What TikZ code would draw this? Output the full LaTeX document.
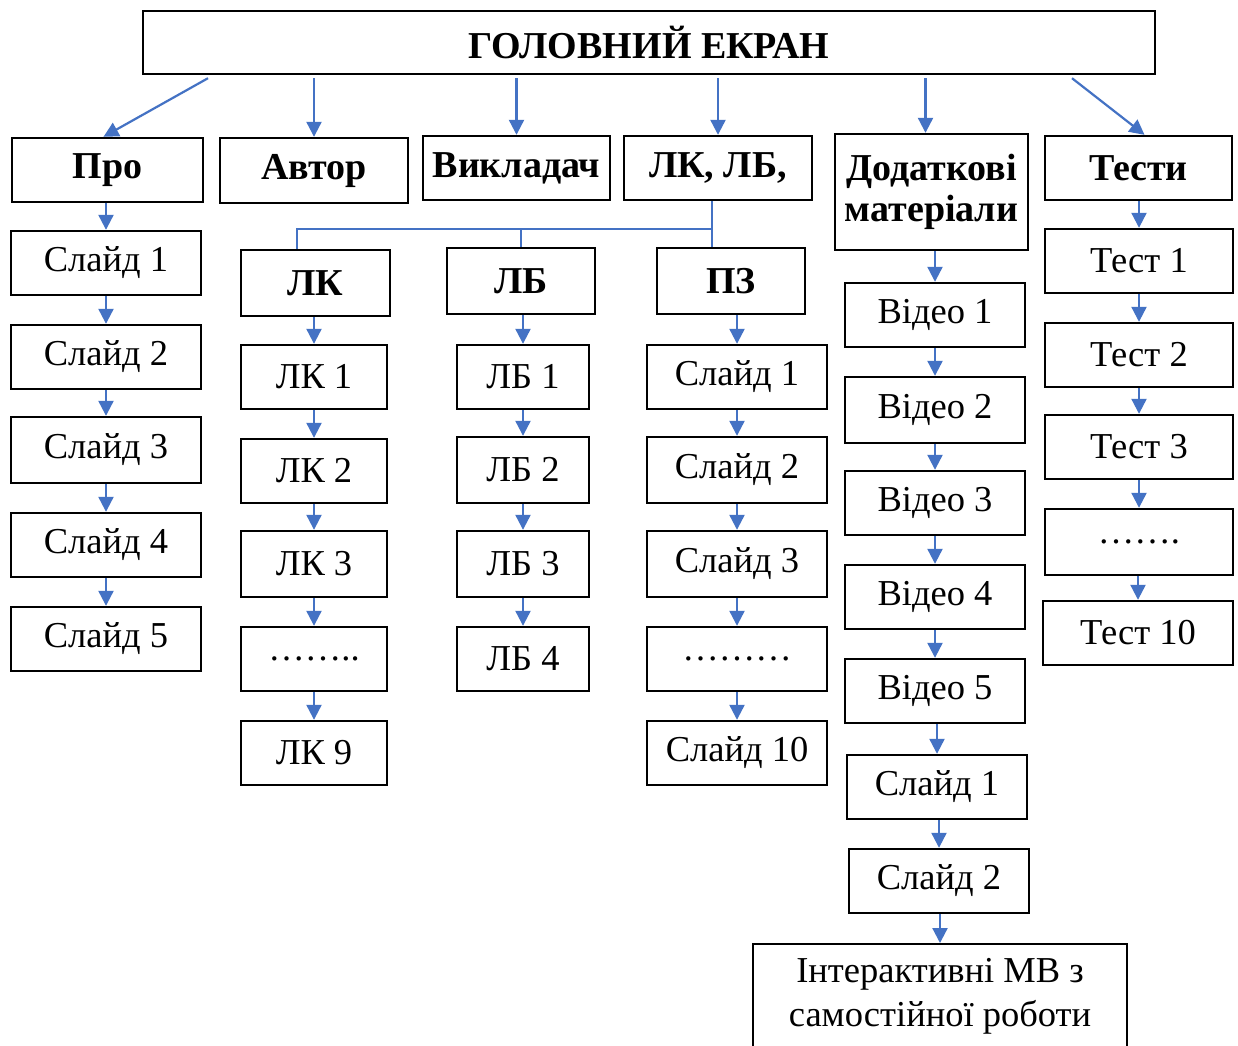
\documentclass[tikz,border=0pt]{standalone}
\usepackage{fontspec}
\setmainfont{Liberation Serif}
\usetikzlibrary{arrows.meta,calc}
\definecolor{arrblue}{HTML}{4472C4}
\begin{document}
\begin{tikzpicture}[x=1pt,y=-1pt,
  box/.style={draw, line width=2.4pt, inner sep=0pt, align=center, font=\fontsize{36.5}{42}\selectfont},
  hbox/.style={box, font=\fontsize{38}{41}\selectfont\bfseries},
  arr/.style={arrblue, line width=2.2pt, -{Triangle[length=15pt,width=15pt]}},
  conn/.style={arrblue, line width=2pt}]
\fill[white] (0,0) rectangle (1238,1045);
\clip (0,0) rectangle (1238,1045);
% top level
\node[hbox, minimum width=1012pt, minimum height=63pt] (title) at (649,42.5) {ГОЛОВНИЙ ЕКРАН};
\node[hbox, minimum width=191pt, minimum height=64pt] (pro) at (107.5,170) {Про};
\node[hbox, minimum width=188pt, minimum height=65pt] (avtor) at (314,170.5) {Автор};
\node[hbox, minimum width=187pt, minimum height=64pt] (vykl) at (516.5,168) {Викладач};
\node[hbox, minimum width=188pt, minimum height=64pt] (lklb) at (718,168) {ЛК, ЛБ,};
\node[hbox, minimum width=193pt, minimum height=116pt] (dod) at (931.5,192) {Додаткові\\матеріали};
\node[hbox, minimum width=187pt, minimum height=64pt] (testy) at (1138.5,168) {Тести};
% Про column
\node[box, minimum width=190pt, minimum height=64pt] (s1) at (106,263) {Слайд 1};
\node[box, minimum width=190pt, minimum height=64pt] (s2) at (106,357) {Слайд 2};
\node[box, minimum width=190pt, minimum height=66pt] (s3) at (106,450) {Слайд 3};
\node[box, minimum width=190pt, minimum height=64pt] (s4) at (106,545) {Слайд 4};
\node[box, minimum width=190pt, minimum height=64pt] (s5) at (106,639) {Слайд 5};
% ЛК column
\node[hbox, minimum width=149pt, minimum height=66pt] (lk) at (315.5,283) {ЛК};
\node[box, minimum width=146pt, minimum height=64pt] (lk1) at (314,377) {ЛК 1};
\node[box, minimum width=146pt, minimum height=64pt] (lk2) at (314,471) {ЛК 2};
\node[box, minimum width=146pt, minimum height=66pt] (lk3) at (314,564) {ЛК 3};
\node[box, minimum width=146pt, minimum height=64pt] (lkd) at (314,659) {……..};
\node[box, minimum width=146pt, minimum height=64pt] (lk9) at (314,753) {ЛК 9};
% ЛБ column
\node[hbox, minimum width=148pt, minimum height=66pt] (lb) at (521,281) {ЛБ};
\node[box, minimum width=132pt, minimum height=64pt] (lb1) at (523,377) {ЛБ 1};
\node[box, minimum width=132pt, minimum height=66pt] (lb2) at (523,470) {ЛБ 2};
\node[box, minimum width=132pt, minimum height=66pt] (lb3) at (523,564) {ЛБ 3};
\node[box, minimum width=132pt, minimum height=64pt] (lb4) at (523,659) {ЛБ 4};
% ПЗ column
\node[hbox, minimum width=148pt, minimum height=66pt] (pz) at (731,281) {ПЗ};
\node[box, minimum width=180pt, minimum height=64pt] (pz1) at (737,377) {Слайд 1};
\node[box, minimum width=180pt, minimum height=66pt] (pz2) at (737,470) {Слайд 2};
\node[box, minimum width=180pt, minimum height=66pt] (pz3) at (737,564) {Слайд 3};
\node[box, minimum width=180pt, minimum height=64pt] (pzd) at (737,659) {………};
\node[box, minimum width=180pt, minimum height=64pt] (pz10) at (737,753) {Слайд 10};
% Додаткові column
\node[box, minimum width=180pt, minimum height=64pt] (v1) at (935,315) {Відео 1};
\node[box, minimum width=180pt, minimum height=66pt] (v2) at (935,410) {Відео 2};
\node[box, minimum width=180pt, minimum height=64pt] (v3) at (935,503) {Відео 3};
\node[box, minimum width=180pt, minimum height=64pt] (v4) at (935,597) {Відео 4};
\node[box, minimum width=180pt, minimum height=64pt] (v5) at (935,691) {Відео 5};
\node[box, minimum width=180pt, minimum height=64pt] (ds1) at (937,787) {Слайд 1};
\node[box, minimum width=180pt, minimum height=64pt] (ds2) at (939,881) {Слайд 2};
\node[box, minimum width=374pt, anchor=north, inner ysep=14pt, text depth=50pt, font=\fontsize{36.5}{44}\selectfont] (inter) at (940,943) {Інтерактивні МВ з\\самостійної роботи};
% Тести column
\node[box, minimum width=188pt, minimum height=64pt] (t1) at (1139,261) {Тест 1};
\node[box, minimum width=188pt, minimum height=64pt] (t2) at (1139,355) {Тест 2};
\node[box, minimum width=188pt, minimum height=64pt] (t3) at (1139,447) {Тест 3};
\node[box, minimum width=188pt, minimum height=66pt] (td) at (1139,542) {…….};
\node[box, minimum width=190pt, minimum height=64pt] (t10) at (1138,633) {Тест 10};
% arrows from title
\draw[arr] ([xshift=-441pt,yshift=-3pt]title.south) -- ([xshift=-4pt]pro.north);
\draw[arr] ([yshift=-3pt]title.south -| avtor.north) -- (avtor.north);
\draw[arr] ([yshift=-3pt]title.south -| vykl.north) -- (vykl.north);
\draw[arr] ([yshift=-3pt]title.south -| lklb.north) -- (lklb.north);
\draw[arr] ([yshift=-3pt,xshift=-6pt]title.south -| dod.north) -- ([xshift=-6pt]dod.north);
\draw[arr] ([xshift=423pt,yshift=-3pt]title.south) -- ([xshift=6pt]testy.north);
% junction ЛК, ЛБ, ПЗ
\draw[conn] ([xshift=-6pt]lklb.south) -- ++(0,28) coordinate (jn) -| ([xshift=-18.5pt]lk.north);
\draw[conn] (jn) -- ([xshift=-19pt]pz.north);
\draw[conn] (jn -| lb.north) -- (lb.north);
% chains
\foreach \a/\b in {pro/s1,s1/s2,s2/s3,s3/s4,s4/s5,
  lk/lk1,lk1/lk2,lk2/lk3,lk3/lkd,lkd/lk9,
  lb/lb1,lb1/lb2,lb2/lb3,lb3/lb4,
  pz/pz1,pz1/pz2,pz2/pz3,pz3/pzd,pzd/pz10,
  dod/v1,v1/v2,v2/v3,v3/v4,v4/v5,v5/ds1,ds1/ds2,ds2/inter,
  testy/t1,t1/t2,t2/t3,t3/td,td/t10}
  \draw[arr] (\b.north |- \a.south) -- (\b.north);
\end{tikzpicture}
\end{document}
